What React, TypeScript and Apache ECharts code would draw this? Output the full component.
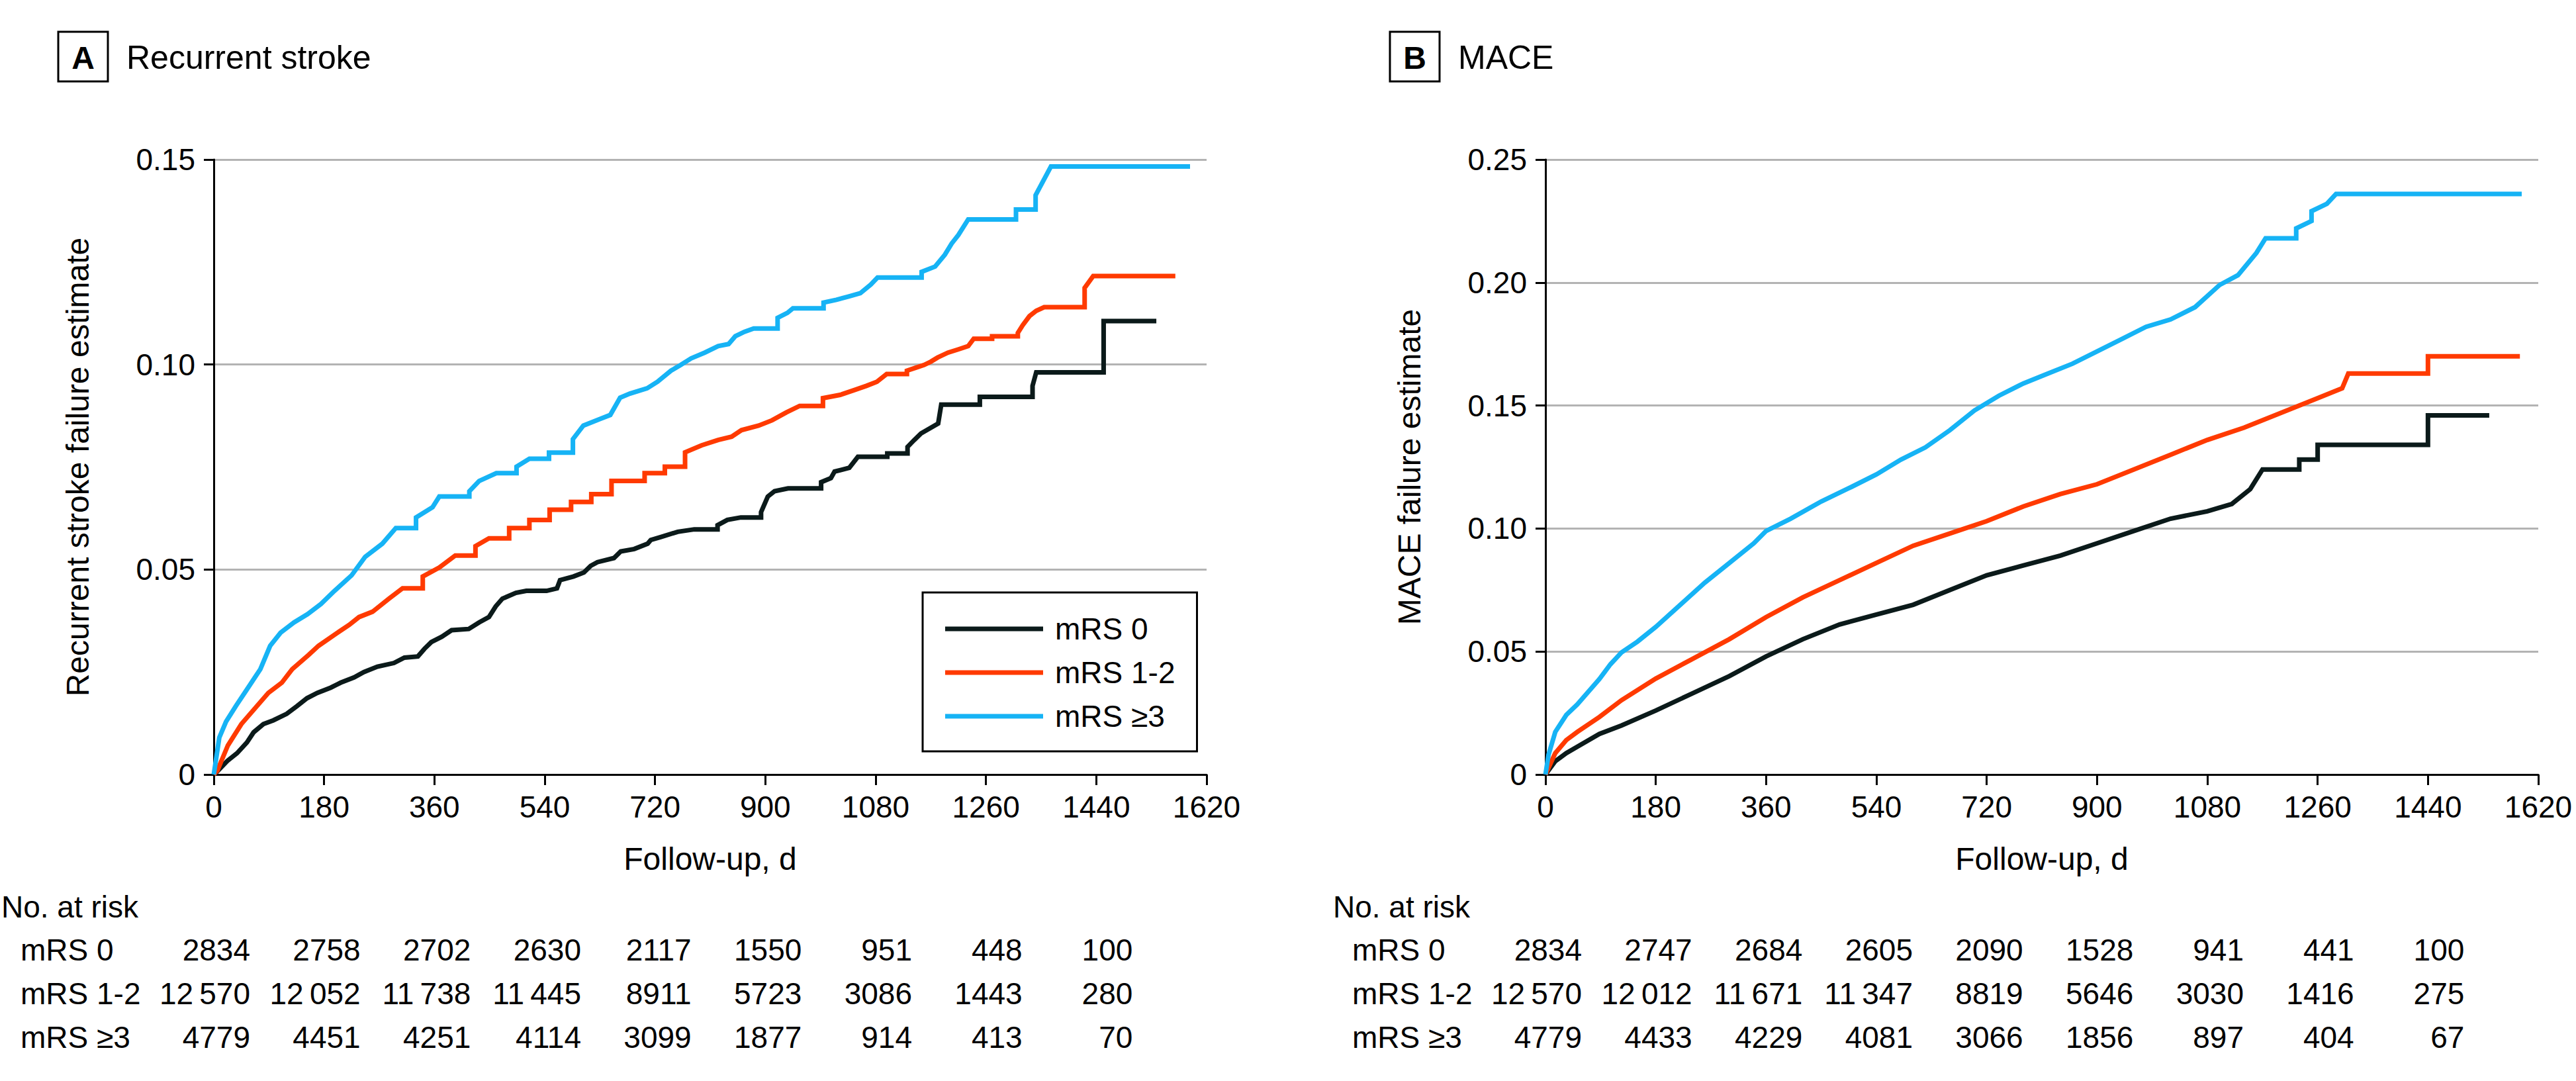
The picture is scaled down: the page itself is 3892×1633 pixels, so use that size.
import React, { useEffect, useRef } from "react";
import * as echarts from "echarts";

// ---------- DATA ----------
const DAY_MAX = 1620;
const DAY_INTERVAL = 180;
const SERIES_NAMES = ["mRS 0", "mRS 1-2", "mRS \u22653"];
const RISK_TIMES = [0, 180, 360, 540, 720, 900, 1080, 1260, 1440];

// Panel A: recurrent stroke — Kaplan-Meier jump points (day, cumulative failure estimate)
const STROKE_MRS0: [number, number][] = [
  [0, 0], [6, 0.0008], [22, 0.0033], [38, 0.0052], [54, 0.0078], [65, 0.0103], [81, 0.0123],
  [97, 0.0132], [119, 0.0148], [136, 0.0167], [152, 0.0186], [169, 0.0199], [191, 0.0212],
  [207, 0.0224], [229, 0.0237], [245, 0.025], [267, 0.0263], [294, 0.0272], [311, 0.0285],
  [333, 0.0288], [344, 0.0307], [355, 0.0323], [372, 0.0336], [388, 0.0352], [416, 0.0355],
  [433, 0.0371], [449, 0.0384], [460, 0.041], [471, 0.0429], [493, 0.0443], [510, 0.0448],
  [543, 0.0449], [560, 0.0454], [565, 0.0474], [587, 0.0483], [604, 0.0493], [615, 0.0509],
  [626, 0.0518], [653, 0.0528], [664, 0.0544], [686, 0.055], [708, 0.0563], [713, 0.0572],
  [729, 0.0579], [757, 0.0592], [784, 0.0598], [822, 0.0608], [838, 0.0621], [860, 0.0627],
  [893, 0.064], [904, 0.0678], [915, 0.0691], [937, 0.0698], [991, 0.0713], [1007, 0.0723],
  [1013, 0.0739], [1037, 0.0748], [1051, 0.0775], [1099, 0.0783], [1132, 0.0799],
  [1143, 0.0816], [1154, 0.0832], [1182, 0.0856], [1187, 0.0902], [1250, 0.0921],
  [1336, 0.0948], [1342, 0.0981], [1452, 0.1106], [1538, 0.1106],
];
const STROKE_MRS12: [number, number][] = [
  [0, 0], [6, 0.001], [23, 0.0071], [45, 0.0123], [67, 0.0161], [89, 0.0199], [111, 0.0224],
  [128, 0.0257], [155, 0.0292], [171, 0.0314], [199, 0.0343], [221, 0.0365], [237, 0.0384],
  [259, 0.0397], [286, 0.0429], [308, 0.0454], [341, 0.0483], [368, 0.0505], [394, 0.0534],
  [427, 0.0557], [449, 0.0576], [482, 0.0601], [515, 0.0621], [548, 0.0646], [583, 0.0665],
  [616, 0.0684], [649, 0.0716], [703, 0.0735], [736, 0.0751], [769, 0.0786], [796, 0.0803],
  [823, 0.0816], [845, 0.0824], [861, 0.084], [889, 0.0851], [911, 0.0864], [934, 0.0883],
  [956, 0.0899], [994, 0.0918], [1022, 0.0926], [1044, 0.0937], [1065, 0.0948],
  [1082, 0.0958], [1098, 0.0977], [1131, 0.0985], [1145, 0.0992], [1159, 0.0999],
  [1170, 0.1007], [1181, 0.1017], [1198, 0.1029], [1215, 0.1037], [1231, 0.1045],
  [1240, 0.1063], [1270, 0.1069], [1312, 0.1077], [1320, 0.1096], [1331, 0.1118],
  [1342, 0.1131], [1355, 0.114], [1421, 0.1187], [1435, 0.1216], [1569, 0.1216],
];
const STROKE_MRS3: [number, number][] = [
  [0, 0], [9, 0.009], [20, 0.0129], [36, 0.0167], [53, 0.0205], [76, 0.0257], [92, 0.0314],
  [109, 0.0346], [131, 0.0371], [153, 0.0391], [175, 0.0416], [197, 0.0448], [225, 0.0486],
  [247, 0.0531], [275, 0.0563], [297, 0.0601], [330, 0.0627], [357, 0.0652], [368, 0.0678],
  [417, 0.0691], [433, 0.0716], [461, 0.0735], [494, 0.0751], [515, 0.077], [547, 0.0785],
  [586, 0.0818], [603, 0.0851], [630, 0.0867], [647, 0.0877], [663, 0.0919], [679, 0.0929],
  [707, 0.0942], [724, 0.0958], [746, 0.0985], [762, 0.0999], [779, 0.1015], [801, 0.1029],
  [823, 0.1045], [840, 0.105], [851, 0.1069], [866, 0.108], [881, 0.1088], [920, 0.1114],
  [936, 0.1126], [945, 0.1137], [995, 0.1151], [1016, 0.1158], [1036, 0.1166],
  [1055, 0.1174], [1072, 0.1195], [1083, 0.1212], [1155, 0.1226], [1177, 0.1239],
  [1193, 0.1268], [1204, 0.1295], [1215, 0.1316], [1231, 0.1354], [1309, 0.1378],
  [1341, 0.1413], [1366, 0.1483], [1593, 0.1483],
];

// Panel B: MACE — curve vertices (day, cumulative failure estimate)
const MACE_MRS0: [number, number][] = [
  [0, 0], [16, 0.0054], [34, 0.0087], [52, 0.0113], [88, 0.0165], [124, 0.0199], [180, 0.026],
  [240, 0.033], [300, 0.04], [360, 0.048], [420, 0.055], [480, 0.061], [540, 0.065],
  [600, 0.069], [660, 0.075], [720, 0.081], [780, 0.085], [840, 0.089], [900, 0.094],
  [960, 0.099], [1020, 0.104], [1080, 0.107], [1120, 0.11], [1150, 0.116], [1170, 0.124],
  [1230, 0.124], [1230, 0.128], [1260, 0.128], [1260, 0.134], [1440, 0.134], [1440, 0.146],
  [1540, 0.146],
];
const MACE_MRS12: [number, number][] = [
  [0, 0], [16, 0.0087], [34, 0.014], [52, 0.0173], [88, 0.0234], [124, 0.0302], [180, 0.039],
  [240, 0.047], [300, 0.055], [360, 0.064], [420, 0.072], [480, 0.079], [540, 0.086],
  [600, 0.093], [660, 0.098], [720, 0.103], [780, 0.109], [840, 0.114], [900, 0.118],
  [960, 0.124], [1020, 0.13], [1080, 0.136], [1140, 0.141], [1200, 0.147], [1260, 0.153],
  [1300, 0.157], [1310, 0.163], [1440, 0.163], [1440, 0.17], [1590, 0.17],
];
const MACE_MRS3: [number, number][] = [
  [0, 0], [5, 0.008], [16, 0.0173], [34, 0.0242], [52, 0.0285], [88, 0.0388], [106, 0.0448],
  [124, 0.0496], [150, 0.054], [180, 0.06], [220, 0.069], [260, 0.078], [300, 0.086],
  [340, 0.094], [360, 0.099], [400, 0.104], [450, 0.111], [500, 0.117], [540, 0.122],
  [580, 0.128], [620, 0.133], [660, 0.14], [700, 0.148], [740, 0.154], [780, 0.159],
  [820, 0.163], [860, 0.167], [900, 0.172], [940, 0.177], [980, 0.182], [1020, 0.185],
  [1060, 0.19], [1100, 0.199], [1130, 0.203], [1160, 0.212], [1175, 0.218], [1225, 0.218],
  [1225, 0.222], [1250, 0.225], [1250, 0.229], [1275, 0.232], [1290, 0.236], [1593, 0.236],
];

// Number at risk
const STROKE_RISK_MRS0 = [2834, 2758, 2702, 2630, 2117, 1550, 951, 448, 100];
const STROKE_RISK_MRS12 = [12570, 12052, 11738, 11445, 8911, 5723, 3086, 1443, 280];
const STROKE_RISK_MRS3 = [4779, 4451, 4251, 4114, 3099, 1877, 914, 413, 70];
const MACE_RISK_MRS0 = [2834, 2747, 2684, 2605, 2090, 1528, 941, 441, 100];
const MACE_RISK_MRS12 = [12570, 12012, 11671, 11347, 8819, 5646, 3030, 1416, 275];
const MACE_RISK_MRS3 = [4779, 4433, 4229, 4081, 3066, 1856, 897, 404, 67];

// ---------- STYLE / LAYOUT ----------
const FONT = "'Liberation Sans', Arial, sans-serif";
const COLORS = ["#0b1a1a", "#ff3a00", "#16b3f5"];
const W = 3892;
const H = 1633;
const GRID_TOP = 241;
const GRID_H = 929;
const GRID_W = 1500;
const GRID_LEFTS = [323, 2335];

const PANELS = [
  {
    letter: "A",
    title: "Recurrent stroke",
    yLabel: "Recurrent stroke failure estimate",
    yMax: 0.15,
    curves: [STROKE_MRS0, STROKE_MRS12, STROKE_MRS3],
    jumpPoints: true,
    risk: [STROKE_RISK_MRS0, STROKE_RISK_MRS12, STROKE_RISK_MRS3],
  },
  {
    letter: "B",
    title: "MACE",
    yLabel: "MACE failure estimate",
    yMax: 0.25,
    curves: [MACE_MRS0, MACE_MRS12, MACE_MRS3],
    jumpPoints: false,
    risk: [MACE_RISK_MRS0, MACE_RISK_MRS12, MACE_RISK_MRS3],
  },
];

// For jump-point data: where a plateau lasts a while, draw it as a flat run then a vertical jump
function toVertices(pts: [number, number][], flatGap: number): [number, number][] {
  const out: [number, number][] = [];
  for (let i = 0; i < pts.length; i++) {
    out.push(pts[i]);
    if (i + 1 < pts.length && pts[i + 1][0] - pts[i][0] >= flatGap) {
      out.push([pts[i + 1][0], pts[i][1]]);
    }
  }
  return out;
}

function fmtRisk(n: number): string {
  const s = String(n);
  if (s.length >= 5) return s.slice(0, s.length - 3) + "\u2009" + s.slice(s.length - 3);
  return s;
}

function txt(x: number, y: number, text: string, fontSize: number, align: string, extra: any = {}) {
  return {
    type: "text",
    x,
    y,
    silent: true,
    ...extra,
    style: {
      text,
      fontSize,
      fontFamily: FONT,
      fontWeight: extra.fontWeight || "normal",
      fill: "#000",
      align,
      textAlign: align,
      verticalAlign: "middle",
      textVerticalAlign: "middle",
    },
  };
}

export default function App() {
  const ref = useRef<HTMLDivElement>(null);

  useEffect(() => {
    if (!ref.current) return;
    const chart = echarts.init(ref.current, null, { renderer: "svg", width: W, height: H });

    const grids = PANELS.map((_, i) => ({
      left: GRID_LEFTS[i],
      top: GRID_TOP,
      width: GRID_W,
      height: GRID_H,
      containLabel: false,
    }));

    const xAxes = PANELS.map((_, i) => ({
      type: "value",
      gridIndex: i,
      min: 0,
      max: DAY_MAX,
      interval: DAY_INTERVAL,
      axisLine: { show: true, onZero: false, lineStyle: { color: "#000", width: 3 } },
      axisTick: { show: true, inside: false, length: 16, lineStyle: { color: "#000", width: 3 } },
      axisLabel: {
        fontSize: 46,
        fontFamily: FONT,
        color: "#000",
        margin: 26,
        hideOverlap: false,
        formatter: (v: number) => String(v),
      },
      splitLine: { show: false },
    }));

    const yAxes = PANELS.map((p, i) => ({
      type: "value",
      gridIndex: i,
      min: 0,
      max: p.yMax,
      interval: 0.05,
      axisLine: { show: true, lineStyle: { color: "#000", width: 3 } },
      axisTick: { show: true, inside: false, length: 15, lineStyle: { color: "#000", width: 3 } },
      axisLabel: {
        fontSize: 46,
        fontFamily: FONT,
        color: "#000",
        margin: 28,
        formatter: (v: number) => (Math.abs(v) < 1e-9 ? "0" : v.toFixed(2)),
      },
      splitLine: { show: true, lineStyle: { color: "#b3b3b3", width: 3 } },
    }));

    const series: any[] = [];
    PANELS.forEach((p, pi) => {
      p.curves.forEach((data, si) => {
        series.push({
          type: "line",
          name: SERIES_NAMES[si],
          xAxisIndex: pi,
          yAxisIndex: pi,
          data: p.jumpPoints ? toVertices(data, 30) : data,
          symbol: "none",
          showSymbol: false,
          color: COLORS[si],
          lineStyle: { color: COLORS[si], width: 7, join: "miter" },
          z: 3 + si,
        });
      });
    });

    chart.setOption({
      animation: false,
      backgroundColor: "#fff",
      grid: grids,
      xAxis: xAxes,
      yAxis: yAxes,
      series,
      legend: {
        data: SERIES_NAMES,
        left: 1394,
        top: 895,
        orient: "vertical",
        icon: "rect",
        itemWidth: 148,
        itemHeight: 7,
        itemGap: 20,
        padding: [32, 33, 30, 34],
        borderColor: "#000",
        borderWidth: 3,
        selectedMode: false,
        textStyle: {
          fontSize: 46,
          fontFamily: FONT,
          color: "#000",
          lineHeight: 46,
          padding: [0, 0, 0, 13],
        },
      },
    });

    // Graphic layer: titles, axis names, risk tables
    const elements: any[] = [];
    PANELS.forEach((p, pi) => {
      const gl = GRID_LEFTS[pi];
      elements.push({
        type: "rect",
        silent: true,
        shape: { x: gl - 235, y: 48, width: 75, height: 75 },
        style: { fill: "none", stroke: "#000", lineWidth: 3 },
      });
      elements.push(txt(gl - 197.5, 87, p.letter, 48, "center", { fontWeight: "bold" }));
      elements.push(txt(gl - 132, 87, p.title, 50, "left"));
      elements.push(
        txt(gl - 206, GRID_TOP + GRID_H / 2, p.yLabel, 48, "center", { rotation: Math.PI / 2 })
      );
      elements.push(txt(gl + GRID_W / 2, 1297, "Follow-up, d", 48, "center"));
      elements.push(txt(gl - 321, 1370, "No. at risk", 46, "left"));
      const rowY = [1435, 1501, 1567];
      SERIES_NAMES.forEach((nm, ri) => {
        elements.push(txt(gl - 292, rowY[ri], nm, 46, "left"));
        p.risk[ri].forEach((n, ci) => {
          const px = chart.convertToPixel({ xAxisIndex: pi }, RISK_TIMES[ci]) as number;
          elements.push(txt(px + 55, rowY[ri], fmtRisk(n), 46, "right"));
        });
      });
    });

    chart.setOption({ graphic: { elements } });

    return () => {
      chart.dispose();
    };
  }, []);

  return (
    <div
      ref={ref}
      style={{ position: "fixed", left: 0, top: 0, width: W, height: H, background: "#fff" }}
    />
  );
}
